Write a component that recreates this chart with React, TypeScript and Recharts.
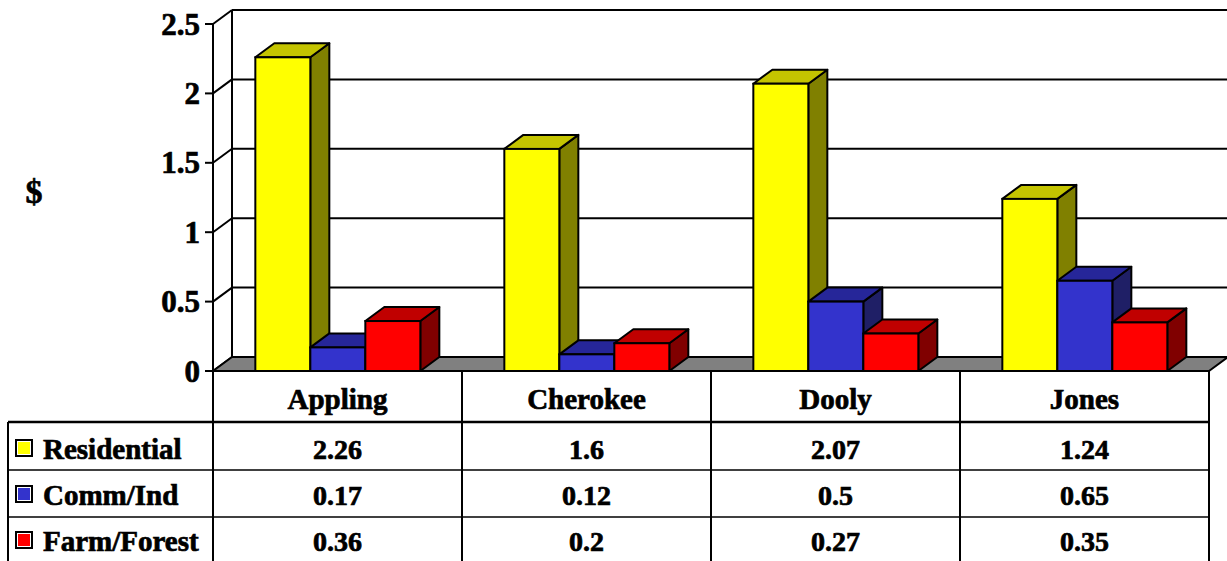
import React from 'react';
import * as R from 'recharts';

const { BarChart, Bar, XAxis, YAxis, CartesianGrid } = R as any;

// ---- data ----
const categories = ['Appling', 'Cherokee', 'Dooly', 'Jones'];
const residential = [2.26, 1.6, 2.07, 1.24];
const commInd = [0.17, 0.12, 0.5, 0.65];
const farmForest = [0.36, 0.2, 0.27, 0.35];
const yTicks = [0, 0.5, 1, 1.5, 2, 2.5];
const seriesNames = ['Residential', 'Comm/Ind', 'Farm/Forest'];
const seriesKeys = ['residential', 'commInd', 'farmForest'];

const data = categories.map((c, i) => ({
  name: c,
  residential: residential[i],
  commInd: commInd[i],
  farmForest: farmForest[i],
}));

// ---- styles ----
const FONT = '"Liberation Serif", "Times New Roman", serif';
const DX = 19;
const DY = 14;
const CHART_W = 1227;
const CHART_H = 561;
const TEXT_STROKE = 0.7;

const palette = [
  { front: '#FFFF00', top: '#C4C400', side: '#808000' },
  { front: '#3333CC', top: '#262699', side: '#1F1F66' },
  { front: '#FF0000', top: '#C00000', side: '#800000' },
];

function makeBox(colors: { front: string; top: string; side: string }) {
  return (props: any) => {
    const { x, y, width: w, height: h } = props;
    if (x == null || y == null) return null;
    const top = `${x},${y} ${x + DX},${y - DY} ${x + w + DX},${y - DY} ${x + w},${y}`;
    const side = `${x + w},${y} ${x + w + DX},${y - DY} ${x + w + DX},${y + h - DY} ${x + w},${y + h}`;
    return (
      <g>
        <polygon points={side} fill={colors.side} stroke="#000" strokeWidth={2} strokeLinejoin="round" />
        <polygon points={top} fill={colors.top} stroke="#000" strokeWidth={2} strokeLinejoin="round" />
        <rect x={x} y={y} width={w} height={h} fill={colors.front} stroke="#000" strokeWidth={2} />
      </g>
    );
  };
}

const usePA = (R as any).usePlotArea;
const useOff = (R as any).useOffset;

function Wall() {
  let area: any = null;
  if (usePA) {
    area = usePA();
  } else if (useOff) {
    const o = useOff();
    area = o ? { x: o.left, y: o.top, width: o.width, height: o.height } : null;
  }
  if (!area) return null;
  const l = area.x;
  const t = area.y;
  const r = area.x + area.width;
  const b = area.y + area.height;
  const floor = `${l},${b} ${r},${b} ${r + DX},${b - DY} ${l + DX},${b - DY}`;
  return (
    <g>
      <line x1={l + DX} y1={t - DY} x2={l + DX} y2={b - DY} stroke="#000" strokeWidth={2} />
      <polygon points={floor} fill="#808080" stroke="#000" strokeWidth={2} strokeLinejoin="round" />
    </g>
  );
}

function gridLine(p: any) {
  const { x1, y1, x2 } = p;
  return (
    <g key={p.key}>
      <line x1={x1} y1={y1} x2={x1 + DX} y2={y1 - DY} stroke="#000" strokeWidth={2} />
      <line x1={x1 + DX} y1={y1 - DY} x2={x2 + DX} y2={y1 - DY} stroke="#000" strokeWidth={2} />
    </g>
  );
}

function YTick(props: any) {
  const { x, y, payload } = props;
  return (
    <text
      x={x}
      y={y}
      dy={10.5}
      textAnchor="end"
      fontSize={31}
      fontWeight="bold"
      fontFamily={FONT}
      fill="#000"
      stroke="#000"
      strokeWidth={TEXT_STROKE}
    >
      {payload.value}
    </text>
  );
}

const seriesArrays = [residential, commInd, farmForest];

function TableTick(props: any) {
  const { x, y, payload } = props;
  const i = payload.index;
  const half = payload.offset || 124.5;
  const left = x - half;
  const right = x + half;
  const bottom = CHART_H;
  const rowY = [y + 51, y + 99, y + 146];
  const baseY = [y + 88, y + 134, y + 180];
  const txt = {
    fontSize: 28,
    fontWeight: 'bold' as const,
    fontFamily: FONT,
    fill: '#000',
    stroke: '#000',
    strokeWidth: TEXT_STROKE,
  };
  return (
    <g>
      <line x1={left} y1={y} x2={left} y2={bottom} stroke="#000" strokeWidth={2} />
      <line x1={right} y1={y} x2={right} y2={bottom} stroke="#000" strokeWidth={2} />
      <line x1={left} y1={rowY[0]} x2={right} y2={rowY[0]} stroke="#000" strokeWidth={2.5} />
      <line x1={left} y1={rowY[1]} x2={right} y2={rowY[1]} stroke="#000" strokeWidth={1.5} />
      <line x1={left} y1={rowY[2]} x2={right} y2={rowY[2]} stroke="#000" strokeWidth={1.5} />
      <text x={x} y={y + 38} textAnchor="middle" {...txt} fontSize={29}>
        {payload.value}
      </text>
      {seriesArrays.map((arr, k) => (
        <text key={k} x={x} y={baseY[k]} textAnchor="middle" {...txt}>
          {String(arr[i])}
        </text>
      ))}
      {i === 0 && (
        <g>
          <line x1={8} y1={rowY[0]} x2={left} y2={rowY[0]} stroke="#000" strokeWidth={2.5} />
          <line x1={8} y1={rowY[1]} x2={left} y2={rowY[1]} stroke="#000" strokeWidth={1.5} />
          <line x1={8} y1={rowY[2]} x2={left} y2={rowY[2]} stroke="#000" strokeWidth={1.5} />
          <line x1={8} y1={rowY[0]} x2={8} y2={bottom} stroke="#000" strokeWidth={2} />
          {seriesNames.map((n, k) => (
            <g key={n}>
              <rect x={15} y={baseY[k] - 20} width={18} height={18} fill="#000" />
              <rect x={17} y={baseY[k] - 18} width={14} height={14} fill="#fff" />
              <rect x={18} y={baseY[k] - 17} width={12} height={12} fill={palette[k].front} />
              <text x={43} y={baseY[k]} {...txt} fontSize={29}>
                {n}
              </text>
            </g>
          ))}
        </g>
      )}
    </g>
  );
}

export default function App() {
  return (
    <div style={{ position: 'absolute', left: 0, top: 0, width: CHART_W, height: CHART_H, background: '#fff' }}>
      <BarChart
        width={CHART_W}
        height={CHART_H}
        data={data}
        margin={{ top: 24, right: 18, left: 0, bottom: 0 }}
        barCategoryGap="17%"
        barGap={0}
      >
        <CartesianGrid vertical={false} horizontal={gridLine} />
        <Wall />
        <XAxis
          dataKey="name"
          type="category"
          height={190}
          axisLine={false}
          tickLine={false}
          tickSize={0}
          tickMargin={0}
          interval={0}
          tick={<TableTick />}
        />
        <YAxis
          type="number"
          domain={[0, 2.5]}
          ticks={yTicks}
          width={213}
          axisLine={{ stroke: '#000', strokeWidth: 2 }}
          tickLine={{ stroke: '#000', strokeWidth: 2 }}
          tickSize={8}
          tickMargin={5}
          tick={<YTick />}
          interval={0}
        />
        {seriesKeys.map((k, idx) => (
          <Bar key={k} dataKey={k} isAnimationActive={false} shape={makeBox(palette[idx])} />
        ))}
        <text
          x={34}
          y={203}
          textAnchor="middle"
          fontSize={34}
          fontWeight="bold"
          fontFamily={FONT}
          fill="#000"
          stroke="#000"
          strokeWidth={TEXT_STROKE}
        >
          $
        </text>
      </BarChart>
    </div>
  );
}
